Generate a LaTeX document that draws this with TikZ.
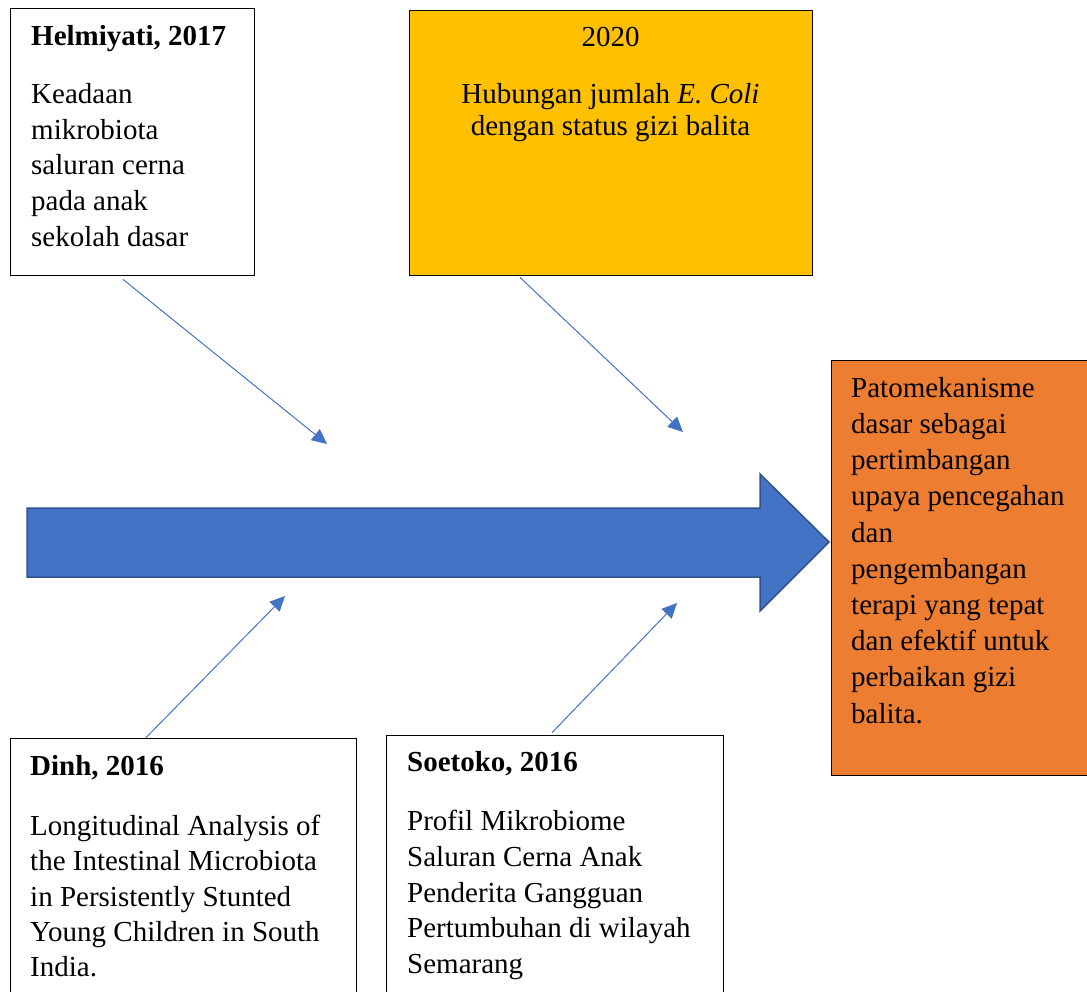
\documentclass[tikz,border=0pt]{standalone}
\usepackage{fontspec}
\setmainfont{Liberation Serif}
\usetikzlibrary{arrows.meta}
\definecolor{gold}{HTML}{FFC000}
\definecolor{rust}{HTML}{ED7D31}
\definecolor{steel}{HTML}{4472C4}
\definecolor{navy}{HTML}{2F528F}
\tikzset{
  box/.style={draw=black, line width=0.8pt, inner sep=0pt},
  txt/.style={inner sep=0pt, align=left, anchor=north west, font=\fontsize{29}{35.7}\selectfont},
  title/.style={txt, font=\fontsize{29}{35.7}\selectfont\bfseries},
  link/.style={draw=steel, line width=1pt, -{Triangle[length=15pt,width=14pt]}}
}
\begin{document}
\begin{tikzpicture}[x=1pt, y=-1pt]
    \clip (0,0) rectangle (1087,991);
    % boxes
    \node[box, minimum width=244pt, minimum height=267pt] (helmiyati) at (132,141.5) {};
    \node[box, fill=gold, minimum width=403pt, minimum height=265pt] (tahun) at (610.5,142.5) {};
    \node[box, fill=rust, minimum width=256pt, minimum height=415pt] (hasil) at (959,567.5) {};
    \node[box, minimum width=346pt, minimum height=270pt] (dinh) at (183,873) {};
    \node[box, minimum width=337pt, minimum height=273pt] (soetoko) at (554.5,871.5) {};
    % texts
    \node[title] at (31,25) {Helmiyati, 2017};
    \node[txt] at (31,83) {Keadaan\\mikrobiota\\saluran cerna\\pada anak\\sekolah dasar};
    \node[txt, anchor=north, align=center] at (610.5,27) {2020};
    \node[txt, anchor=north, align=center, font=\fontsize{29}{32}\selectfont] at (610.5,83)
        {Hubungan jumlah \textit{E. Coli}\\dengan status gizi balita};
    \node[txt, font=\fontsize{29}{36.2}\selectfont] at (851,377) {Patomekanisme\\dasar sebagai\\pertimbangan\\upaya pencegahan\\dan\\pengembangan\\terapi yang tepat\\dan efektif untuk\\perbaikan gizi\\balita.};
    \node[title] at (30,755) {Dinh, 2016};
    \node[txt, font=\fontsize{29}{35.2}\selectfont] at (30,815) {Longitudinal Analysis of\\the Intestinal Microbiota\\in Persistently Stunted\\Young Children in South\\India.};
    \node[title] at (407,751) {Soetoko, 2016};
    \node[txt] at (407,810) {Profil Mikrobiome\\Saluran Cerna Anak\\Penderita Gangguan\\Pertumbuhan di wilayah\\Semarang};
    % main arrow
    \draw[fill=steel, draw=navy, line width=1.5pt, line join=miter]
        (27,508) -- (760,508) -- (760,474) -- (829,542) -- (760,611) -- (760,577) -- (27,577) -- cycle;
    % links
    \coordinate (h end) at (327,444);
    \coordinate (t end) at (683,432);
    \coordinate (d end) at (285,596);
    \coordinate (s end) at (677,603);
    \draw[link] ([xshift=-9pt,yshift=-4pt]helmiyati.south) -- (h end);
    \draw[link] ([xshift=-90.5pt,yshift=-2pt]tahun.south) -- (t end);
    \draw[link] ([xshift=-37pt]dinh.north) -- (d end);
    \draw[link] ([xshift=-2.5pt,yshift=2pt]soetoko.north) -- (s end);
\end{tikzpicture}
\end{document}
